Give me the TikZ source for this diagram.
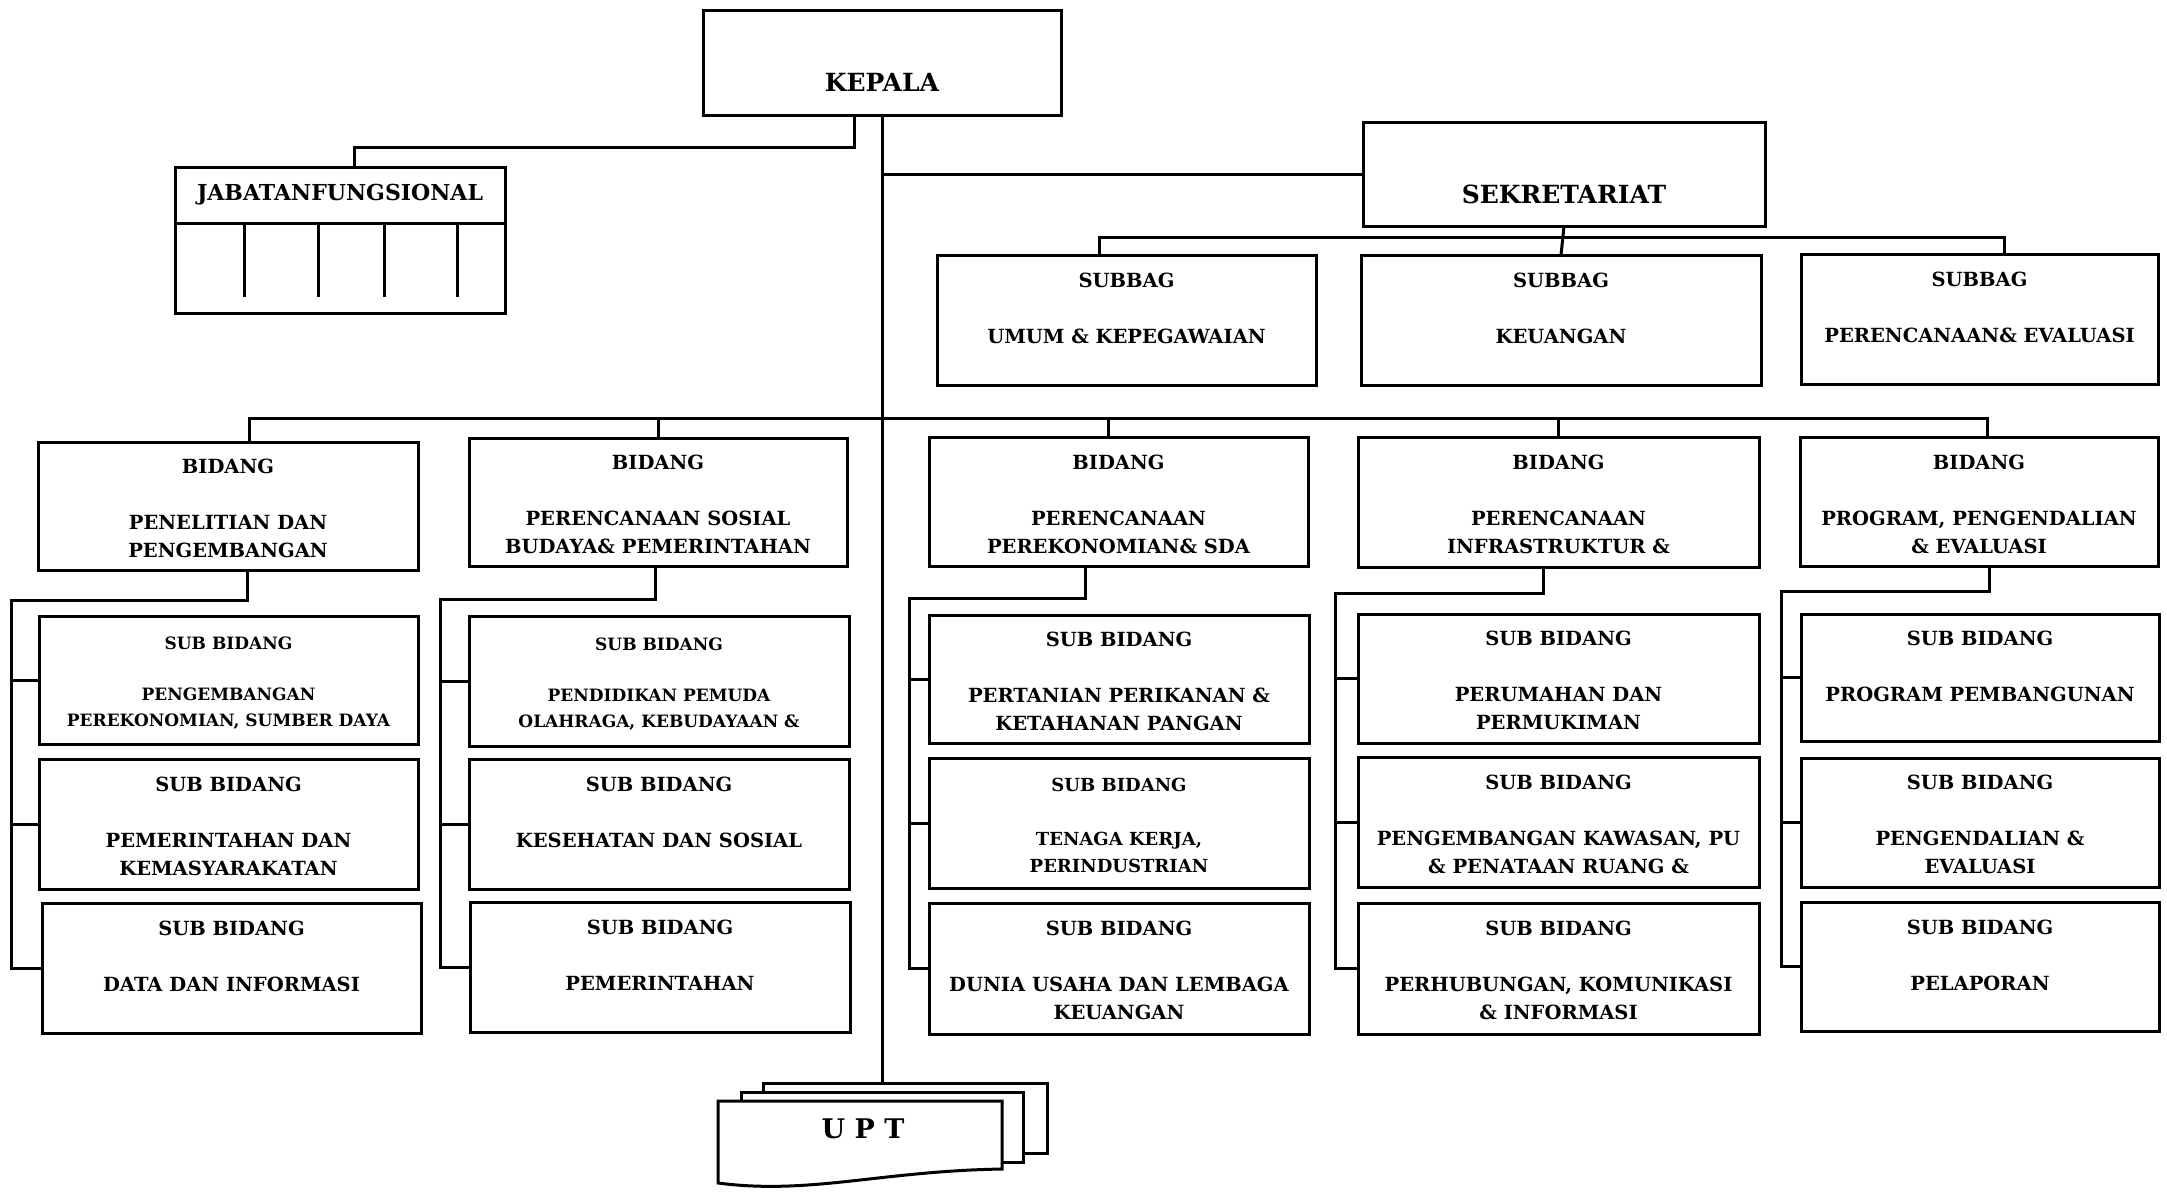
\documentclass[tikz,border=0pt]{standalone}
\usepackage{fontspec}
\setmainfont{DejaVu Serif}
\usepackage{tikz}
\tikzstyle{orgbox} = [draw, fill=white, rectangle, line width=3pt, inner sep=0pt, outer sep=0pt, align=center, font=\bfseries\fontsize{19.5}{28}\selectfont]
\tikzstyle{smalltext} = [font=\bfseries\fontsize{17}{25.5}\selectfont]
\tikzstyle{headbox} = [orgbox, font=\bfseries\fontsize{25}{30}\selectfont, text height=58pt, text depth=0pt]
\tikzstyle{conn} = [draw, line width=3pt]
\newcommand{\bidtext}[1]{\rule{0pt}{20pt}BIDANG\\\mbox{}\\#1}
\newcommand{\subtext}[1]{\rule{0pt}{19pt}SUB BIDANG\\\mbox{}\\#1}
\newcommand{\subbagtext}[1]{\rule{0pt}{19pt}SUBBAG\\\mbox{}\\#1\\\mbox{}}
\newcommand{\kosong}{\mbox{}}

\begin{document}
\begin{tikzpicture}[x=1pt, y=-1pt]
    \useasboundingbox (0,0) rectangle (2167,1192);

    % pimpinan
    \node [headbox, minimum width=358pt, minimum height=105pt] (kepala) at (882,62.5) {KEPALA};
    \node [headbox, minimum width=402pt, minimum height=104pt] (sekretariat) at (1564,174) {SEKRETARIAT};

    % jabatan fungsional
    \node [orgbox, minimum width=330pt, minimum height=56pt, font=\bfseries\fontsize{22}{26}\selectfont] (jabfung) at (340,195) {JABATANFUNGSIONAL};
    \node [orgbox, minimum width=330pt, minimum height=90pt, anchor=north] (jabisi) at (jabfung.south) {};
    \foreach \x in {244,318,384,457}
        \draw [conn] (\x,223) -- (\x,297);

    % subbag
    \node [orgbox, minimum width=379pt, minimum height=130pt] (subbag1) at (1126.5,320) {\subbagtext{UMUM \& KEPEGAWAIAN}};
    \node [orgbox, minimum width=400pt, minimum height=130pt] (subbag2) at (1561,320) {\subbagtext{KEUANGAN}};
    \node [orgbox, minimum width=357pt, minimum height=130pt] (subbag3) at (1979.5,319) {\subbagtext{PERENCANAAN\& EVALUASI}};

    % bidang
    \node [orgbox, minimum width=380pt, minimum height=128pt] (bid1) at (228,506) {\bidtext{PENELITIAN DAN\\PENGEMBANGAN}};
    \node [orgbox, minimum width=378pt, minimum height=128pt] (bid2) at (658,502) {\bidtext{PERENCANAAN SOSIAL\\BUDAYA\& PEMERINTAHAN}};
    \node [orgbox, minimum width=379pt, minimum height=129pt] (bid3) at (1118.5,501.5) {\bidtext{PERENCANAAN\\PEREKONOMIAN\& SDA}};
    \node [orgbox, minimum width=401pt, minimum height=130pt] (bid4) at (1558.5,502) {\bidtext{PERENCANAAN\\INFRASTRUKTUR \&}};
    \node [orgbox, minimum width=358pt, minimum height=129pt] (bid5) at (1979,501.5) {\bidtext{PROGRAM, PENGENDALIAN\\\& EVALUASI}};

    % sub bidang
    \node [orgbox, smalltext, minimum width=379pt, minimum height=128pt] (sb11) at (228.5,680) {\subtext{PENGEMBANGAN\\PEREKONOMIAN, SUMBER DAYA}};
    \node [orgbox, minimum width=379pt, minimum height=130pt] (sb12) at (228.5,824) {\subtext{PEMERINTAHAN DAN\\KEMASYARAKATAN}};
    \node [orgbox, minimum width=379pt, minimum height=130pt] (sb13) at (231.5,968) {\subtext{DATA DAN INFORMASI\\\kosong}};

    \node [orgbox, smalltext, minimum width=380pt, minimum height=130pt] (sb21) at (659,681) {\subtext{PENDIDIKAN PEMUDA\\OLAHRAGA, KEBUDAYAAN \&}};
    \node [orgbox, minimum width=380pt, minimum height=130pt] (sb22) at (659,824) {\subtext{KESEHATAN DAN SOSIAL\\\kosong}};
    \node [orgbox, minimum width=380pt, minimum height=130pt] (sb23) at (660,967) {\subtext{PEMERINTAHAN\\\kosong}};

    \node [orgbox, minimum width=380pt, minimum height=128pt] (sb31) at (1119,679) {\subtext{PERTANIAN PERIKANAN \&\\KETAHANAN PANGAN}};
    \node [orgbox, minimum width=380pt, minimum height=130pt, font=\bfseries\fontsize{18}{27}\selectfont] (sb32) at (1119,823) {\subtext{TENAGA KERJA,\\PERINDUSTRIAN}};
    \node [orgbox, minimum width=380pt, minimum height=131pt] (sb33) at (1119,968.5) {\subtext{DUNIA USAHA DAN LEMBAGA\\KEUANGAN}};

    \node [orgbox, minimum width=401pt, minimum height=129pt] (sb41) at (1558.5,678.5) {\subtext{PERUMAHAN DAN\\PERMUKIMAN}};
    \node [orgbox, minimum width=401pt, minimum height=130pt] (sb42) at (1558.5,822) {\subtext{PENGEMBANGAN KAWASAN, PU\\\& PENATAAN RUANG \&}};
    \node [orgbox, minimum width=401pt, minimum height=131pt] (sb43) at (1558.5,968.5) {\subtext{PERHUBUNGAN, KOMUNIKASI\\\& INFORMASI}};

    \node [orgbox, minimum width=358pt, minimum height=127pt] (sb51) at (1980,677.5) {\subtext{PROGRAM PEMBANGUNAN\\\kosong}};
    \node [orgbox, minimum width=358pt, minimum height=129pt] (sb52) at (1980,822.5) {\subtext{PENGENDALIAN \&\\EVALUASI}};
    \node [orgbox, minimum width=358pt, minimum height=129pt] (sb53) at (1980,966.5) {\subtext{PELAPORAN\\\kosong}};

    % UPT
    \filldraw [line width=3pt, fill=white] (763,1083) rectangle (1047,1153);
    \filldraw [line width=3pt, fill=white] (741,1092) rectangle (1023,1162);
    \filldraw [line width=3pt, fill=white] (718,1101) -- (1002,1101) -- (1002,1169)
        .. controls (880,1171) and (810,1195) .. (718,1183) -- cycle;
    \node [font=\bfseries\fontsize{27}{32}\selectfont] (upt) at (863,1129) {U P T};
    \coordinate (upttop) at (882,1083);

    % garis komando
    \draw [conn] (kepala.south) -- (upttop);
    \draw [conn] ([xshift=-28pt]kepala.south) -- ++(0,32) -| ([xshift=14pt]jabfung.north);
    \draw [conn] (sekretariat.west) -- (sekretariat.west -| kepala.south);
    \draw [conn] (sekretariat.south) -- (subbag2.north);
    \draw [conn] ([xshift=-27pt]subbag1.north) -- ++(0,-18) -| ([xshift=25pt]subbag3.north);
    \draw [conn] ([xshift=21pt]bid1.north) -- ++(0,-24) -| ([xshift=8pt]bid5.north);
    \draw [conn] (bid2.north) -- ++(0,-20);
    \draw [conn] ([xshift=-10pt]bid3.north) -- ++(0,-19);
    \draw [conn] (bid4.north) -- ++(0,-19);

    % bidang ke sub bidang
    \draw [conn] ([xshift=19pt]bid1.south) -- ++(0,30) -- ++(-236,0) |- (sb13.west);
    \draw [conn] ([xshift=-3pt]bid2.south) -- ++(0,33) -- ++(-215,0) |- (sb23.west);
    \draw [conn] ([xshift=-33pt]bid3.south) -- ++(0,32) -- ++(-176,0) |- (sb33.west);
    \draw [conn] ([xshift=-15pt]bid4.south) -- ++(0,26) -- ++(-208,0) |- (sb43.west);
    \draw [conn] ([xshift=10pt]bid5.south) -- ++(0,25) -- ++(-208,0) |- (sb53.west);
    \foreach \k/\d in {1/28,2/29,3/20,4/23,5/20} {
        \draw [conn] (sb\k1.west) -- ++(-\d,0);
        \draw [conn] (sb\k2.west) -- ++(-\d,0);
    }
\end{tikzpicture}
\end{document}
